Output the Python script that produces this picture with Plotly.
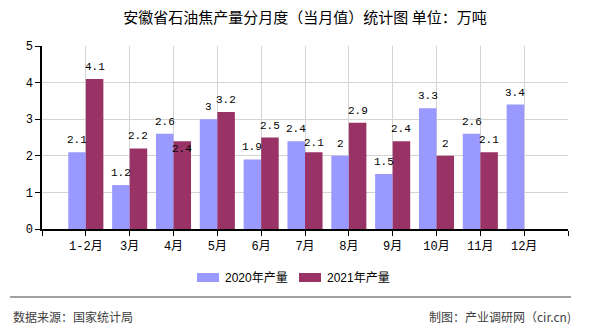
import plotly.graph_objects as go

months = ["1-2月", "3月", "4月", "5月", "6月", "7月", "8月", "9月", "10月", "11月", "12月"]
vals_2020 = [2.1, 1.2, 2.6, 3.0, 1.9, 2.4, 2.0, 1.5, 3.3, 2.6, 3.4]
vals_2021 = [4.1, 2.2, 2.4, 3.2, 2.5, 2.1, 2.9, 2.4, 2.0, 2.1, None]
series_names = ["2020年产量", "2021年产量"]
colors = ["#9999FF", "#993366"]
title_text = "安徽省石油焦产量分月度（当月值）统计图 单位：万吨"
source_text = "数据来源：国家统计局"
credit_text = "制图：产业调研网（cir.cn)"

W, H = 590, 330
L, R, T, B = 42, 22, 46, 101
PW, PH = W - L - R, H - T - B


def px(x):
    return (x - L) / PW


def py(y):
    return (H - B - y) / PH


xs = list(range(len(months)))
label_font = dict(family="Liberation Mono, Noto Sans CJK SC", size=11, color="#000000")
# vertical label offsets (pixels) - the reference tucks one label below its bar top
label_dy = [
    [12] * len(months),
    [12, 12, -8, 12, 12, 9, 12, 12, 12, 12, 12],
]

fig = go.Figure()
slot = PW / (len(months) + 1)
bar_w = slot * 0.8 / 2
for k, (name, vals, col) in enumerate(zip(series_names, [vals_2020, vals_2021], colors)):
    fig.add_trace(go.Bar(
        x=xs, y=vals, name=name, marker=dict(color=col, line=dict(width=0)),
        showlegend=False, hoverinfo="x+y",
    ))
    shift = (k - 0.5) * bar_w
    for x, v, dy in zip(xs, vals, label_dy[k]):
        if v is None:
            continue
        fig.add_annotation(x=x, y=v, text=f"{v:g}", showarrow=False,
                           xshift=shift, yshift=dy, yanchor="middle", xanchor="center",
                           font=label_font)

fig.update_layout(
    width=W, height=H,
    margin=dict(l=L, r=R, t=T, b=B),
    paper_bgcolor="white", plot_bgcolor="white",
    barmode="group", bargap=0.2, bargroupgap=0,
    title=dict(text=title_text, x=0.5, xref="paper", xanchor="center",
               y=1 - 18 / H, yanchor="middle",
               font=dict(family="Noto Sans CJK SC", size=15, color="#000000")),
    xaxis=dict(range=[-1, len(months)], tickmode="array",
               tickvals=list(range(-1, len(months) + 1)),
               ticktext=[""] + months + [""],
               showgrid=True, gridcolor="#d4d4d4", gridwidth=1,
               showline=True, linecolor="#000000", linewidth=1.5,
               ticks="outside", ticklen=5, tickcolor="#000000",
               tickfont=dict(family="Liberation Mono, Noto Sans CJK SC", size=12, color="#000000"),
               zeroline=False, fixedrange=True),
    yaxis=dict(range=[0, 5], dtick=1, tick0=0,
               showgrid=True, gridcolor="#d4d4d4", gridwidth=1,
               showline=True, linecolor="#000000", linewidth=1.5,
               ticks="outside", ticklen=5, tickcolor="#000000",
               tickfont=dict(family="Liberation Mono", size=12, color="#000000"),
               zeroline=False, fixedrange=True),
)

# legend (drawn manually to match swatch shape)
leg_items = [(197, 223), (299, 325)]
for (sx, tx), name, col in zip(leg_items, series_names, colors):
    fig.add_shape(type="rect", xref="paper", yref="paper",
                  x0=px(sx), x1=px(sx + 22), y0=py(282), y1=py(273),
                  fillcolor=col, line=dict(width=0))
    fig.add_annotation(text=name, xref="paper", yref="paper",
                       x=px(tx), y=py(277.5), xanchor="left", yanchor="middle",
                       showarrow=False,
                       font=dict(family="Liberation Sans, Noto Sans CJK SC", size=12, color="#000000"))

# footer
fig.add_shape(type="line", xref="paper", yref="paper",
              x0=px(10), x1=px(571), y0=py(297), y1=py(297),
              line=dict(color="#808080", width=1.5))
fig.add_annotation(text=source_text, xref="paper", yref="paper",
                   x=px(11), y=py(316), xanchor="left", yanchor="middle", showarrow=False,
                   font=dict(family="Noto Sans CJK SC", size=12, color="#404040"))
fig.add_annotation(text=credit_text, xref="paper", yref="paper",
                   x=px(573), y=py(316), xanchor="right", yanchor="middle", showarrow=False,
                   font=dict(family="Noto Sans CJK SC", size=12, color="#404040"))

fig.write_html("out.html")
